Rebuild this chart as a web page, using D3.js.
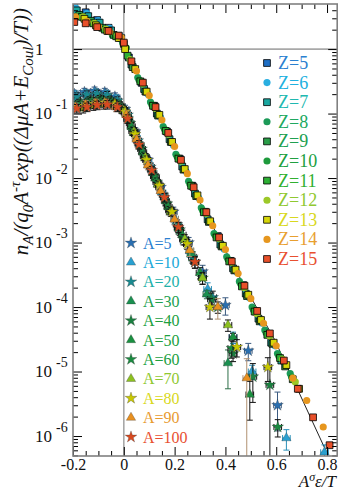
<!DOCTYPE html>
<html>
<head>
<meta charset="utf-8">
<script src="https://cdn.jsdelivr.net/npm/d3@7"></script>
<style>
  body { margin: 0; background: #fff; }
  svg { display: block; }
  svg text { font-family: "Liberation Serif", "DejaVu Serif", serif; }
</style>
</head>
<body>
<svg id="chart"></svg>
<script>
// ---- data ----
const zNames = ["Z=5", "Z=6", "Z=7", "Z=8", "Z=9", "Z=10", "Z=11", "Z=12", "Z=13", "Z=14", "Z=15"];
const aNames = ["A=5", "A=10", "A=20", "A=30", "A=40", "A=50", "A=60", "A=70", "A=80", "A=90", "A=100"];

// upper band (Z scaling)
const z5x = [-0.195, -0.15, -0.105, -0.06, -0.02, 0.02, 0.07, 0.12, 0.17, 0.22, 0.27, 0.32, 0.37, 0.42, 0.47, 0.52, 0.57];
const z5y = [4.57, 3.72, 2.82, 2.14, 1.58, 0.74, 0.30, 0.132, 0.0525, 0.020, 7.6e-3, 3.0e-3, 1.26e-3, 5.2e-4, 2.19e-4, 8.5e-5, 3.8e-5];
const z6x = [-0.19, -0.145, -0.10, -0.055, -0.015, 0.045, 0.095, 0.145, 0.195, 0.245, 0.295, 0.345, 0.395, 0.445, 0.495, 0.545, 0.595];
const z6y = [4.37, 3.55, 2.75, 2.09, 1.62, 0.49, 0.20, 0.087, 0.0324, 0.0126, 4.9e-3, 2.0e-3, 7.9e-4, 3.47e-4, 1.38e-4, 5.6e-5, 2.5e-5];
const z7x = [-0.185, -0.14, -0.095, -0.05, -0.01, 0.03, 0.08, 0.13, 0.18, 0.23, 0.28, 0.33, 0.38, 0.43, 0.48, 0.53, 0.58, 0.62];
const z7y = [3.98, 3.24, 2.57, 1.95, 1.48, 0.575, 0.24, 0.10, 0.040, 0.0151, 5.75e-3, 2.29e-3, 9.3e-4, 3.98e-4, 1.62e-4, 6.6e-5, 2.8e-5, 1.48e-5];
const z8x = [-0.18, -0.135, -0.09, -0.045, -0.005, 0.055, 0.105, 0.155, 0.205, 0.255, 0.305, 0.355, 0.405, 0.455, 0.505, 0.555, 0.605, 0.655];
const z8y = [3.31, 2.69, 2.19, 1.66, 1.26, 0.363, 0.151, 0.063, 0.0234, 8.9e-3, 3.47e-3, 1.38e-3, 6.0e-4, 2.5e-4, 1.0e-4, 4.4e-5, 1.9e-5, 9.3e-6];
const z9x = [-0.175, -0.13, -0.085, -0.04, 0.0, 0.035, 0.085, 0.135, 0.185, 0.235, 0.285, 0.335, 0.385, 0.435, 0.485, 0.535, 0.585, 0.635];
const z9y = [3.39, 2.75, 2.14, 1.66, 1.20, 0.525, 0.219, 0.093, 0.0363, 0.0135, 5.25e-3, 2.09e-3, 8.7e-4, 3.7e-4, 1.48e-4, 6.0e-5, 2.69e-5, 1.2e-5];
const z10x = [-0.17, -0.125, -0.08, -0.035, 0.01, 0.06, 0.11, 0.16, 0.21, 0.26, 0.31, 0.36, 0.41, 0.46, 0.51, 0.56, 0.61, 0.66];
const z10y = [3.16, 2.57, 2.04, 1.62, 1.05, 0.331, 0.138, 0.0575, 0.0214, 8.1e-3, 3.16e-3, 1.29e-3, 5.5e-4, 2.29e-4, 9.1e-5, 4.0e-5, 1.74e-5, 8.3e-6];
const z11x = [-0.165, -0.12, -0.075, -0.03, 0.015, 0.065, 0.115, 0.165, 0.215, 0.265, 0.315, 0.365, 0.415, 0.465, 0.515, 0.565, 0.615, 0.665];
const z11y = [3.16, 2.51, 2.0, 1.58, 0.79, 0.316, 0.132, 0.0537, 0.020, 7.6e-3, 2.95e-3, 1.2e-3, 5.1e-4, 2.09e-4, 8.5e-5, 3.7e-5, 1.62e-5, 7.6e-6];
const z12x = [-0.16, -0.115, -0.07, -0.025, 0.025, 0.075, 0.125, 0.175, 0.225, 0.275, 0.325, 0.375, 0.425, 0.475, 0.525, 0.575, 0.625, 0.675];
const z12y = [3.16, 2.51, 2.04, 1.62, 0.69, 0.288, 0.12, 0.0479, 0.0182, 7.1e-3, 2.82e-3, 1.15e-3, 4.9e-4, 2.0e-4, 7.9e-5, 3.55e-5, 1.55e-5, 6.9e-6];
const z13x = [-0.155, -0.11, -0.065, -0.02, 0.005, 0.045, 0.09, 0.14, 0.19, 0.24, 0.29, 0.34, 0.39, 0.44, 0.49, 0.54, 0.59, 0.64, 0.69];
const z13y = [2.95, 2.34, 1.91, 1.48, 1.0, 0.49, 0.219, 0.0955, 0.0363, 0.0138, 5.4e-3, 2.14e-3, 8.9e-4, 3.8e-4, 1.55e-4, 6.3e-5, 2.8e-5, 1.26e-5, 5.4e-6];
const z14x = [-0.19, -0.145, -0.10, -0.055, -0.01, 0.05, 0.10, 0.15, 0.20, 0.25, 0.30, 0.35, 0.40, 0.45, 0.50, 0.55, 0.60, 0.665, 0.72, 0.785];
const z14y = [3.16, 2.69, 2.24, 1.86, 1.51, 0.457, 0.19, 0.0794, 0.0309, 0.0117, 4.57e-3, 1.82e-3, 7.8e-4, 3.3e-4, 1.35e-4, 5.6e-5, 2.5e-5, 7.9e-6, 3.55e-6, 1.38e-6];
const z15x = [-0.195, -0.15, -0.105, -0.06, -0.02, 0.0, 0.03, 0.075, 0.125, 0.175, 0.225, 0.275, 0.325, 0.375, 0.425, 0.475, 0.525, 0.575, 0.63, 0.685, 0.745, 0.81];
const z15y = [2.63, 2.51, 2.19, 1.91, 1.62, 1.26, 0.646, 0.302, 0.126, 0.0501, 0.0191, 7.2e-3, 2.95e-3, 1.2e-3, 5.1e-4, 2.14e-4, 8.7e-5, 3.9e-5, 1.48e-5, 5.4e-6, 1.95e-6, 7.2e-7];

// lower band (A scaling), relative y errors in *e
const a5x = [-0.195, -0.155, -0.115, -0.075, -0.035, 0.005, 0.045, 0.095, 0.145, 0.195, 0.255, 0.31, 0.40, 0.49, 0.605];
const a5y = [0.20, 0.214, 0.224, 0.214, 0.182, 0.117, 0.0525, 0.019, 7.2e-3, 3.0e-3, 1.0e-3, 3.55e-4, 1.07e-4, 2.1e-5, 3.0e-6];
const a5e = [0.15, 0.15, 0.15, 0.15, 0.15, 0.15, 0.15, 0.15, 0.15, 0.18, 0.2, 0.25, 0.3, 0.3, 0.6];
const a10x = [-0.19, -0.15, -0.11, -0.07, -0.03, 0.01, 0.05, 0.10, 0.15, 0.20, 0.26, 0.33, 0.43, 0.505, 0.64, 0.79];
const a10y = [0.195, 0.204, 0.209, 0.20, 0.17, 0.102, 0.0417, 0.0158, 6.0e-3, 2.34e-3, 7.4e-4, 1.9e-4, 3.4e-5, 1.0e-5, 9.3e-7, 5.6e-7];
const a10e = [0.15, 0.15, 0.15, 0.15, 0.15, 0.15, 0.15, 0.15, 0.15, 0.18, 0.2, 0.25, 0.2, 0.25, 0.35, 0.3];
const a20x = [-0.185, -0.145, -0.105, -0.065, -0.025, 0.015, 0.055, 0.105, 0.155, 0.21, 0.27, 0.35];
const a20y = [0.182, 0.195, 0.20, 0.191, 0.158, 0.0955, 0.038, 0.0148, 5.5e-3, 1.9e-3, 6.0e-4, 1.41e-4];
const a20e = [0.15, 0.15, 0.15, 0.15, 0.15, 0.15, 0.15, 0.15, 0.15, 0.18, 0.2, 0.25];
const a30x = [-0.18, -0.14, -0.10, -0.06, -0.02, 0.02, 0.065, 0.115, 0.165, 0.215, 0.265, 0.327, 0.41];
const a30y = [0.138, 0.151, 0.158, 0.158, 0.138, 0.083, 0.0316, 0.012, 4.4e-3, 1.66e-3, 6.6e-4, 1.58e-4, 1.35e-5];
const a30e = [0.15, 0.15, 0.15, 0.15, 0.15, 0.15, 0.15, 0.15, 0.15, 0.18, 0.2, 0.15, 0.6];
const a40x = [-0.175, -0.135, -0.095, -0.055, -0.015, 0.025, 0.07, 0.12, 0.17, 0.22, 0.28, 0.345, 0.43, 0.508, 0.575];
const a40y = [0.145, 0.158, 0.166, 0.158, 0.132, 0.0708, 0.0282, 0.0107, 4.0e-3, 1.58e-3, 5.0e-4, 1.32e-4, 1.9e-5, 8.3e-6, 6.2e-6];
const a40e = [0.15, 0.15, 0.15, 0.15, 0.15, 0.15, 0.15, 0.15, 0.15, 0.18, 0.2, 0.25, 0.25, 0.6, 4.5];
const a50x = [-0.17, -0.13, -0.09, -0.05, -0.01, 0.03, 0.075, 0.125, 0.175, 0.23, 0.30, 0.43, 0.496];
const a50y = [0.132, 0.145, 0.151, 0.145, 0.12, 0.063, 0.0251, 0.01, 3.55e-3, 1.32e-3, 3.4e-4, 3.4e-5, 4.4e-6];
const a50e = [0.15, 0.15, 0.15, 0.15, 0.15, 0.15, 0.15, 0.15, 0.15, 0.18, 0.2, 0.15, 0.6];
const a60x = [-0.165, -0.125, -0.085, -0.045, -0.005, 0.035, 0.08, 0.13, 0.18, 0.235, 0.31, 0.37, 0.425, 0.606];
const a60y = [0.141, 0.155, 0.158, 0.151, 0.117, 0.0537, 0.0219, 8.7e-3, 3.16e-3, 1.12e-3, 2.82e-4, 1.0e-4, 2.3e-5, 1.38e-6];
const a60e = [0.15, 0.15, 0.15, 0.15, 0.15, 0.15, 0.15, 0.15, 0.15, 0.18, 0.2, 0.2, 0.3, 0.3];
const a70x = [-0.16, -0.12, -0.08, -0.04, 0.0, 0.04, 0.085, 0.135, 0.185, 0.24, 0.31, 0.41];
const a70y = [0.12, 0.132, 0.138, 0.138, 0.112, 0.0525, 0.0209, 7.9e-3, 3.0e-3, 1.12e-3, 2.82e-4, 5.25e-5];
const a70e = [0.15, 0.15, 0.15, 0.15, 0.15, 0.15, 0.15, 0.15, 0.15, 0.18, 0.2, 0.2];
const a80x = [-0.155, -0.115, -0.075, -0.035, 0.005, 0.045, 0.09, 0.14, 0.19, 0.25, 0.339, 0.445, 0.567];
const a80y = [0.132, 0.141, 0.148, 0.141, 0.107, 0.0479, 0.0191, 7.6e-3, 3.0e-3, 9.5e-4, 1.0e-4, 2.4e-5, 1.17e-5];
const a80e = [0.15, 0.15, 0.15, 0.15, 0.15, 0.15, 0.15, 0.15, 0.15, 0.18, 0.35, 0.3, 0.4];
const a90x = [-0.19, -0.15, -0.11, -0.07, -0.03, 0.01, 0.05, 0.095, 0.145, 0.20, 0.26, 0.37, 0.484];
const a90y = [0.126, 0.138, 0.145, 0.145, 0.126, 0.0955, 0.0398, 0.0158, 6.3e-3, 2.29e-3, 7.6e-4, 1.0e-4, 7.9e-6];
const a90e = [0.15, 0.15, 0.15, 0.15, 0.15, 0.15, 0.15, 0.15, 0.15, 0.18, 0.2, 0.35, 1.0];
const a100x = [-0.185, -0.145, -0.105, -0.065, -0.025, 0.015, 0.06, 0.11, 0.16, 0.215, 0.28];
const a100y = [0.12, 0.126, 0.135, 0.138, 0.126, 0.083, 0.0331, 0.0132, 5.0e-3, 1.74e-3, 5.0e-4];
const a100e = [0.15, 0.15, 0.15, 0.15, 0.15, 0.15, 0.15, 0.15, 0.15, 0.18, 0.2];
const aXErr = 0.015;

// fit curve
const fitX = [0.30, 0.45, 0.594, 0.803];
const fitY = [4.2e-3, 3.2e-4, 3.1e-5, 5.1e-7];

// ---- styles ----
const zShape = ["square", "circle", "square", "circle", "square", "circle", "square", "circle", "square", "circle", "square"];
const zFill = ["#1f6fc5", "#2aaee0", "#1aa7a0", "#1c9a58", "#2a9d48", "#1e9a3c", "#2db034", "#9cc828", "#d6d60a", "#e6961e", "#e8502a"];
const zText = ["#2a80d0", "#20b0e0", "#20b8b0", "#20a860", "#20a050", "#20a040", "#30b030", "#90c830", "#d8d820", "#e8a030", "#e85030"];
const aShape = ["star", "triangle", "star", "triangle", "star", "triangle", "star", "triangle", "star", "triangle", "star"];
const aFill = ["#2a6fb0", "#2aa0d0", "#1a8a90", "#1a9050", "#1a8040", "#1a9040", "#1a8a40", "#8cc020", "#c8c800", "#e89020", "#d84a20"];
const aText = ["#2a80d0", "#20a8d8", "#20b0a8", "#20a050", "#20a040", "#20a040", "#20a040", "#90c830", "#d8d820", "#e89a30", "#e85030"];
const aErrColor = ["#3a5a80", "#2a90b8", "#111", "#2d6e48", "#111", "#111", "#111", "#111", "#111", "#b09070", "#111"];

const zXs = [z5x, z6x, z7x, z8x, z9x, z10x, z11x, z12x, z13x, z14x, z15x];
const zYs = [z5y, z6y, z7y, z8y, z9y, z10y, z11y, z12y, z13y, z14y, z15y];
const aXs = [a5x, a10x, a20x, a30x, a40x, a50x, a60x, a70x, a80x, a90x, a100x];
const aYs = [a5y, a10y, a20y, a30y, a40y, a50y, a60y, a70y, a80y, a90y, a100y];
const aEs = [a5e, a10e, a20e, a30e, a40e, a50e, a60e, a70e, a80e, a90e, a100e];

const width = 346;
const height = 490;
const pLeft = 73, pRight = 337.2, pTop = 4, pBottom = 456;
const serif = "Liberation Serif";

const svg = d3.select("#chart").attr("width", width).attr("height", height);

const x = d3.scaleLinear().domain([-0.2, 0.84]).range([pLeft, pRight]);
const y = d3.scaleLog().domain([4.9e-7, 5]).range([pBottom, pTop]);

const symbols = {
  square: d3.symbol().type(d3.symbolSquare).size(46)(),
  circle: d3.symbol().type(d3.symbolCircle).size(40)(),
  star: d3.symbol().type(d3.symbolStar).size(42)(),
  triangle: d3.symbol().type(d3.symbolTriangle).size(38)()
};

svg.append("clipPath").attr("id", "clip")
  .append("rect").attr("x", pLeft).attr("y", pTop)
  .attr("width", pRight - pLeft).attr("height", pBottom - pTop);

const plot = svg.append("g").attr("clip-path", "url(#clip)");

// reference lines at y = 1 and x = 0
plot.append("line")
  .attr("x1", pLeft).attr("x2", pRight).attr("y1", y(1)).attr("y2", y(1))
  .attr("stroke", "#a8a8a8").attr("stroke-width", 1.6);
plot.append("line")
  .attr("x1", x(0)).attr("x2", x(0)).attr("y1", pTop).attr("y2", pBottom)
  .attr("stroke", "#a8a8a8").attr("stroke-width", 1.6);

// fit line
plot.append("path")
  .datum(fitX.map((v, i) => [v, fitY[i]]))
  .attr("fill", "none").attr("stroke", "#222").attr("stroke-width", 1)
  .attr("d", d3.line().x(d => x(d[0])).y(d => y(d[1])));

// lower band with error bars
aXs.forEach((xs, i) => {
  const pts = xs.map((v, j) => ({ x: v, y: aYs[i][j], e: aEs[i][j] }));
  const g = plot.append("g");
  const eb = g.append("g").attr("stroke", aErrColor[i]).attr("stroke-width", 1).attr("fill", "none");
  pts.forEach(d => {
    const cx = x(d.x), cy = y(d.y);
    const lo = d.y * (1 - d.e);
    const yHi = y(d.y * (1 + d.e));
    const yLo = lo > 0 ? y(lo) : pBottom + 5;
    const xl = x(d.x - aXErr), xr = x(d.x + aXErr);
    eb.append("path").attr("d",
      `M${cx},${yHi}V${yLo}M${cx - 3},${yHi}H${cx + 3}M${cx - 3},${yLo}H${cx + 3}` +
      `M${xl},${cy}H${xr}M${xl},${cy - 3}V${cy + 3}M${xr},${cy - 3}V${cy + 3}`);
  });
  g.append("g").selectAll("path").data(pts).join("path")
    .attr("transform", d => `translate(${x(d.x)},${y(d.y)})`)
    .attr("d", symbols[aShape[i]])
    .attr("fill", aFill[i])
    .attr("stroke", "#333").attr("stroke-width", 0.3);
});

// upper band
zXs.forEach((xs, i) => {
  const pts = xs.map((v, j) => ({ x: v, y: zYs[i][j] }));
  plot.append("g").selectAll("path").data(pts).join("path")
    .attr("transform", d => `translate(${x(d.x)},${y(d.y)})`)
    .attr("d", symbols[zShape[i]])
    .attr("fill", zFill[i])
    .attr("stroke", zShape[i] === "square" ? "#000" : "none")
    .attr("stroke-width", 0.8);
});

// ---- axes ----
const xMajor = [-0.2, 0, 0.2, 0.4, 0.6, 0.8];
const xMinor = x.ticks(20).filter(v => !xMajor.some(m => Math.abs(m - v) < 1e-6));
const yMajor = [1e-6, 1e-5, 1e-4, 1e-3, 1e-2, 1e-1, 1];
const yMinor = [];
d3.range(-7, 1).forEach(p => d3.range(2, 10).forEach(k => {
  const v = k * Math.pow(10, p);
  if (v > 4.9e-7 && v < 5) yMinor.push(v);
}));

function styleAxis(g) {
  g.select(".domain").remove();
  g.selectAll(".tick line").attr("stroke", "#000").attr("stroke-width", 1);
}

svg.append("g").attr("transform", `translate(0,${pBottom})`)
  .call(d3.axisBottom(x).tickValues(xMajor).tickSize(-9).tickPadding(3)
    .tickFormat(v => v === 0 ? "0" : String(+v.toFixed(1))))
  .call(styleAxis)
  .call(g => g.attr("font-family", serif).attr("font-size", 16))
  .call(g => g.selectAll("text").attr("fill", "#111"));
svg.append("g").attr("transform", `translate(0,${pBottom})`)
  .call(d3.axisBottom(x).tickValues(xMinor).tickSize(-5).tickFormat(""))
  .call(styleAxis);
svg.append("g").attr("transform", `translate(0,${pTop})`)
  .call(d3.axisTop(x).tickValues(xMajor).tickSize(-9).tickFormat(""))
  .call(styleAxis);
svg.append("g").attr("transform", `translate(0,${pTop})`)
  .call(d3.axisTop(x).tickValues(xMinor).tickSize(-5).tickFormat(""))
  .call(styleAxis);

svg.append("g").attr("transform", `translate(${pLeft},0)`)
  .call(d3.axisLeft(y).tickValues(yMajor).tickSize(-9).tickFormat(""))
  .call(styleAxis);
svg.append("g").attr("transform", `translate(${pLeft},0)`)
  .call(d3.axisLeft(y).tickValues(yMinor).tickSize(-5).tickFormat(""))
  .call(styleAxis);
svg.append("g").attr("transform", `translate(${pRight},0)`)
  .call(d3.axisRight(y).tickValues(yMajor).tickSize(-9).tickFormat(""))
  .call(styleAxis);
svg.append("g").attr("transform", `translate(${pRight},0)`)
  .call(d3.axisRight(y).tickValues(yMinor).tickSize(-5).tickFormat(""))
  .call(styleAxis);

// y tick labels (10^n)
const yLab = svg.append("g").attr("font-family", serif).attr("font-size", 17).attr("fill", "#111");
yMajor.forEach(v => {
  const p = Math.round(Math.log10(v));
  const t = yLab.append("text").attr("x", 35).attr("y", y(v) + 5.5);
  if (p === 0) {
    t.text("1");
  } else {
    t.append("tspan").text("10");
    t.append("tspan").attr("dx", 4).attr("dy", -10).attr("font-size", 14).text(String(p));
  }
});

// frame
svg.append("rect")
  .attr("x", pLeft).attr("y", pTop).attr("width", pRight - pLeft).attr("height", pBottom - pTop)
  .attr("fill", "none").attr("stroke", "#808080").attr("stroke-width", 1.6);

// axis titles
const xt = svg.append("text").attr("x", 336).attr("y", 487)
  .attr("text-anchor", "end").attr("font-family", serif).attr("font-size", 17)
  .attr("font-style", "italic").attr("fill", "#111");
xt.append("tspan").text("A");
xt.append("tspan").attr("dy", -6).attr("font-size", 12).text("σ");
xt.append("tspan").attr("dy", 6).text("ε/T");

const yt = svg.append("text")
  .attr("transform", "translate(28,8) rotate(-90)")
  .attr("text-anchor", "end").attr("font-family", serif).attr("font-size", 21)
  .attr("font-style", "italic").attr("fill", "#111");
yt.append("tspan").text("n");
yt.append("tspan").attr("dy", 5).attr("font-size", 15).text("A");
yt.append("tspan").attr("dy", -5).text("/(q");
yt.append("tspan").attr("dy", 5).attr("font-size", 15).text("0");
yt.append("tspan").attr("dy", -5).text("A");
yt.append("tspan").attr("dy", -8).attr("font-size", 15).text("-τ");
yt.append("tspan").attr("dy", 8).text("exp((ΔμA+E");
yt.append("tspan").attr("dy", 5).attr("font-size", 15).text("Coul");
yt.append("tspan").attr("dy", -5).text(")/T))");

// legends
const zLeg = svg.append("g").attr("font-family", serif).attr("font-size", 18);
zNames.forEach((n, i) => {
  const ly = 63 + 19.6 * i;
  zLeg.append("path").attr("transform", `translate(267,${ly})`)
    .attr("d", symbols[zShape[i]]).attr("fill", zFill[i])
    .attr("stroke", zShape[i] === "square" ? "#000" : "none").attr("stroke-width", 0.8);
  zLeg.append("text").attr("x", 278).attr("y", ly + 6).attr("fill", zText[i]).text(n);
});

const aLeg = svg.append("g").attr("font-family", serif).attr("font-size", 16);
aNames.forEach((n, i) => {
  const ly = 243 + 19.4 * i;
  aLeg.append("path").attr("transform", `translate(131,${ly})`)
    .attr("d", symbols[aShape[i]]).attr("fill", aFill[i])
    .attr("stroke", "#333").attr("stroke-width", 0.3);
  aLeg.append("text").attr("x", 143).attr("y", ly + 5.5).attr("fill", aText[i]).text(n);
});
</script>
</body>
</html>
